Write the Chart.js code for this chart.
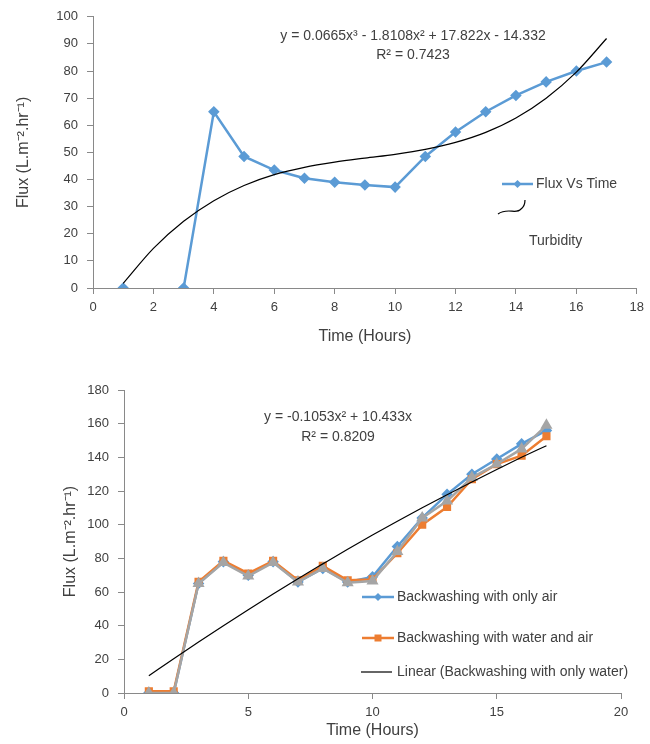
<!DOCTYPE html>
<html>
<head>
<meta charset="utf-8">
<script src="https://cdn.jsdelivr.net/npm/chart.js@4.4.0/dist/chart.umd.min.js"></script>
<style>
  body { margin: 0; background: #fff; }
  #wrap { position: relative; width: 650px; height: 744px; }
  .box { position: absolute; left: 0; width: 650px; }
</style>
</head>
<body>
<div id="wrap">
  <div class="box" style="top:0; height:350px;"><canvas id="chartTop"></canvas></div>
  <div class="box" style="top:360px; height:384px;"><canvas id="chartBottom"></canvas></div>
</div>
<script>
// ---- top chart data (flux vs time, turbidity) ----
const topHours = [1, 2, 3, 4, 5, 6, 7, 8, 9, 10, 11, 12, 13, 14, 15, 16, 17];
const topFlux = [0, null, 0, 65, 48.5, 43.5, 40.5, 39, 38, 37.2, 48.5, 57.5, 65, 71, 76, 80, 83.3];
const topTrendHours = [1, 2, 3, 4, 5, 6, 7, 8, 9, 10, 11, 12, 13, 14, 15, 16, 17];
const topTrend = [1.7, 14.6, 24.6, 32.2, 37.8, 41.8, 44.5, 46.4, 47.9, 49.3, 51.1, 53.7, 57.4, 62.7, 70.0, 79.6, 92.0];

// ---- bottom chart data (backwashing) ----
const botHours = [1, 2, 3, 4, 5, 6, 7, 8, 9, 10, 11, 12, 13, 14, 15, 16, 17];
const onlyAir = [0, 0, 65, 78, 70, 78, 66, 74, 66, 69, 87, 104, 118, 130, 139, 148, 156];
const waterAndAir = [1, 1, 66, 78.5, 71, 78.5, 67, 75.5, 67, 67.5, 83, 100, 110.5, 127, 136, 141, 152.5];
const onlyWater = [0, 0, 65, 77.5, 69.5, 77.5, 66, 74, 65.5, 66.5, 84, 104, 114, 128, 136, 145, 159];
const botTrend = [10.3, 20.4, 30.3, 40.0, 49.5, 58.8, 67.9, 76.7, 85.4, 93.8, 102.0, 110.0, 117.8, 125.4, 132.8, 140.0, 146.9];

const BLUE = '#5B9BD5', ORANGE = '#ED7D31', GRAY = '#A5A5A5', AXIS = '#898989', TXT = '#404040';
const FONT = "'Liberation Sans Narrow', 'Liberation Sans', Arial, sans-serif";

function pts(xs, ys) {
    return xs.map(function (x, i) { return { x: x, y: ys[i] }; });
}

// draws equation text and the odd little legends
const notesPlugin = {
    id: 'notes',
    afterDraw(chart, args, opts) {
        const ctx = chart.ctx;
        ctx.save();
        ctx.fillStyle = TXT;
        ctx.textBaseline = 'middle';
        (opts.texts || []).forEach(function (t) {
            ctx.font = (t.size || 14) + 'px ' + FONT;
            ctx.textAlign = t.align || 'left';
            ctx.fillText(t.text, t.x, t.y);
        });
        (opts.keys || []).forEach(function (k) {
            ctx.strokeStyle = k.color;
            ctx.lineWidth = k.width;
            ctx.beginPath();
            if (k.wave) {
                ctx.moveTo(k.x1, k.y + 5);
                ctx.bezierCurveTo(k.x1 + 10, k.y - 2, k.x1 + 18, k.y + 6, k.x2 - 4, k.y);
                ctx.quadraticCurveTo(k.x2, k.y - 3, k.x2, k.y - 9);
            } else {
                ctx.moveTo(k.x1, k.y);
                ctx.lineTo(k.x2, k.y);
            }
            ctx.stroke();
            if (k.marker) {
                const cx = (k.x1 + k.x2) / 2;
                ctx.fillStyle = k.color;
                ctx.beginPath();
                if (k.marker === 'diamond') {
                    ctx.moveTo(cx, k.y - 4); ctx.lineTo(cx + 4, k.y); ctx.lineTo(cx, k.y + 4); ctx.lineTo(cx - 4, k.y);
                } else {
                    ctx.rect(cx - 3.5, k.y - 3.5, 7, 7);
                }
                ctx.closePath();
                ctx.fill();
                ctx.fillStyle = TXT;
            }
        });
        ctx.restore();
    }
};

function axisOpts(min, max, step, size, title, titlePad, tickPad, isY) {
    return {
        type: 'linear',
        min: min, max: max,
        ticks: { stepSize: step, color: TXT, padding: tickPad, font: { family: FONT, size: 13 } },
        grid: { display: true, drawOnChartArea: false, drawTicks: true, tickLength: 6, color: AXIS },
        border: { color: AXIS, width: 1 },
        title: { display: true, text: title, color: TXT, padding: titlePad, font: { family: FONT, size: 16 } },
        afterFit: function (axis) { if (isY) { axis.width = size; } else { axis.height = size; } }
    };
}

Chart.defaults.animation = false;
Chart.defaults.font.family = FONT;

new Chart('chartTop', {
    type: 'scatter',
    data: {
        datasets: [{
            label: 'Poly. (Turbidity)',
            data: pts(topTrendHours, topTrend),
            showLine: true,
            borderColor: '#000',
            borderWidth: 1.2,
            pointRadius: 0,
            cubicInterpolationMode: 'monotone',
            order: 0
        }, {
            label: 'Flux Vs Time',
            data: pts(topHours, topFlux),
            showLine: true,
            spanGaps: false,
            borderColor: BLUE,
            backgroundColor: BLUE,
            borderWidth: 2.5,
            pointStyle: 'rectRot',
            pointRadius: 4,
            order: 1
        }]
    },
    options: {
        responsive: true,
        maintainAspectRatio: false,
        layout: { padding: { left: 0, right: 7, top: 15, bottom: 0 } },
        scales: {
            x: axisOpts(0, 18, 2, 62, 'Time (Hours)', { top: 3 }, 6, false),
            y: axisOpts(0, 100, 10, 93, 'Flux (L.m⁻².hr⁻¹)', { top: 14, bottom: 0 }, 9, true)
        },
        plugins: {
            legend: { display: false },
            tooltip: { enabled: false },
            notes: {
                texts: [
                    { text: 'y = 0.0665x³ - 1.8108x² + 17.822x - 14.332', x: 413, y: 36, align: 'center' },
                    { text: 'R² = 0.7423', x: 413, y: 55, align: 'center' },
                    { text: 'Flux Vs Time', x: 536, y: 184 },
                    { text: 'Turbidity', x: 529, y: 241 }
                ],
                keys: [
                    { x1: 502, x2: 533, y: 184, color: BLUE, width: 2.5, marker: 'diamond' },
                    { x1: 498, x2: 525, y: 209, color: '#000', width: 1.2, wave: true }
                ]
            }
        }
    },
    plugins: [notesPlugin]
});

new Chart('chartBottom', {
    type: 'scatter',
    data: {
        datasets: [{
            label: 'Poly. (Backwashing with only water)',
            data: pts(botHours, botTrend),
            showLine: true,
            borderColor: '#000',
            borderWidth: 1.2,
            pointRadius: 0,
            cubicInterpolationMode: 'monotone',
            order: 0
        }, {
            label: 'Backwashing with only water',
            data: pts(botHours, onlyWater),
            showLine: true,
            borderColor: GRAY,
            backgroundColor: GRAY,
            borderWidth: 2.5,
            pointStyle: 'triangle',
            pointRadius: 4.5,
            order: 1
        }, {
            label: 'Backwashing with water and air',
            data: pts(botHours, waterAndAir),
            showLine: true,
            borderColor: ORANGE,
            backgroundColor: ORANGE,
            borderWidth: 2.5,
            pointStyle: 'rect',
            pointRadius: 4,
            order: 2
        }, {
            label: 'Backwashing with only air',
            data: pts(botHours, onlyAir),
            showLine: true,
            borderColor: BLUE,
            backgroundColor: BLUE,
            borderWidth: 2.5,
            pointStyle: 'rectRot',
            pointRadius: 4,
            order: 3
        }]
    },
    options: {
        responsive: true,
        maintainAspectRatio: false,
        layout: { padding: { left: 0, right: 29, top: 30, bottom: 0 } },
        scales: {
            x: axisOpts(0, 20, 5, 51, 'Time (Hours)', { top: 0 }, 6, false),
            y: axisOpts(0, 180, 20, 124, 'Flux (L.m⁻².hr⁻¹)', { top: 61, bottom: 0 }, 9, true)
        },
        plugins: {
            legend: { display: false },
            tooltip: { enabled: false },
            notes: {
                texts: [
                    { text: 'y = -0.1053x² + 10.433x', x: 338, y: 57, align: 'center' },
                    { text: 'R² = 0.8209', x: 338, y: 77, align: 'center' },
                    { text: 'Backwashing with only air', x: 397, y: 237 },
                    { text: 'Backwashing with water and air', x: 397, y: 278 },
                    { text: 'Linear (Backwashing with only water)', x: 397, y: 312 }
                ],
                keys: [
                    { x1: 362, x2: 394, y: 237, color: BLUE, width: 2.5, marker: 'diamond' },
                    { x1: 362, x2: 394, y: 278, color: ORANGE, width: 2.5, marker: 'square' },
                    { x1: 361, x2: 392, y: 312, color: '#000', width: 1.2 }
                ]
            }
        }
    },
    plugins: [notesPlugin]
});
</script>
</body>
</html>
